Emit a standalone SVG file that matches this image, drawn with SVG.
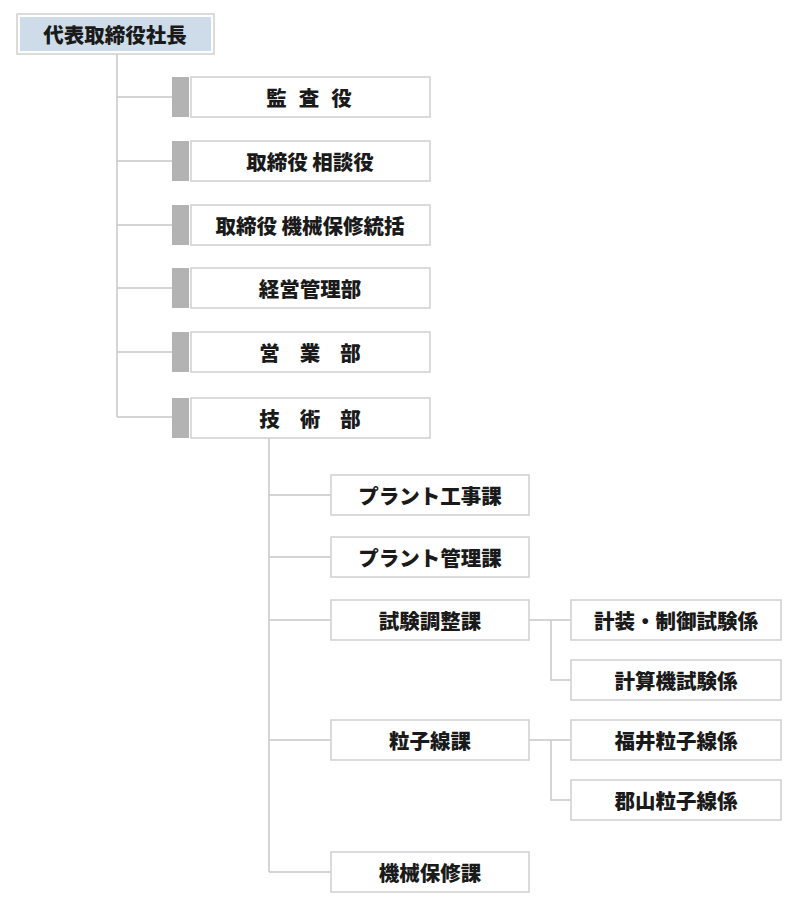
<svg xmlns="http://www.w3.org/2000/svg" width="800" height="905" viewBox="0 0 800 905">
<style>
.b{fill:#fff;stroke:#cfcfcf;stroke-width:1.5}
.g{fill:#b3b3b3}
.t{font-family:"Noto Sans CJK JP",sans-serif;font-weight:900;font-size:20.5px;fill:#1a1a1a;text-anchor:middle;dominant-baseline:central}
.c{fill:none;stroke:#c8c8c8;stroke-width:1.5}
</style>
<rect width="800" height="905" fill="#fff"/>
<g id="connectors">
<path class="c" d="M117 54V417M117 97H172M117 161H172M117 225H172M117 288H172M117 352H172M117 417H172"/>
<path class="c" d="M269 438V872M269 495H331M269 557H331M269 620H331M269 740H331M269 872H331"/>
<path class="c" d="M529 620H571M551 620V680H571M529 740H571M551 740V800H571"/>
</g>
<g id="n0"><rect x="17" y="14" width="197" height="40" fill="#fff" stroke="#d0d0d0" stroke-width="1.5"/><rect x="20" y="17" width="191" height="34" fill="#cddce8"/><text class="t" x="115" y="34">代表取締役社長</text></g>
<g id="n1"><rect class="g" x="172" y="77" width="17" height="40"/><rect class="b" x="191" y="77" width="239" height="40"/><text class="t" x="315" y="97" letter-spacing="12">監査役</text></g>
<g id="n2"><rect class="g" x="172" y="141" width="17" height="40"/><rect class="b" x="191" y="141" width="239" height="40"/><text class="t" x="310" y="161">取締役 相談役</text></g>
<g id="n3"><rect class="g" x="172" y="205" width="17" height="40"/><rect class="b" x="191" y="205" width="239" height="40"/><text class="t" x="310" y="225">取締役 機械保修統括</text></g>
<g id="n4"><rect class="g" x="172" y="268" width="17" height="40"/><rect class="b" x="191" y="268" width="239" height="40"/><text class="t" x="310" y="288">経営管理部</text></g>
<g id="n5"><rect class="g" x="172" y="332" width="17" height="40"/><rect class="b" x="191" y="332" width="239" height="40"/><text class="t" x="320" y="352" letter-spacing="20">営業部</text></g>
<g id="n6"><rect class="g" x="172" y="398" width="17" height="40"/><rect class="b" x="191" y="398" width="239" height="40"/><text class="t" x="320" y="418" letter-spacing="20">技術部</text></g>
<g id="n7"><rect class="b" x="331" y="475" width="198" height="40"/><text class="t" x="430" y="495">プラント工事課</text></g>
<g id="n8"><rect class="b" x="331" y="537" width="198" height="40"/><text class="t" x="430" y="557">プラント管理課</text></g>
<g id="n9"><rect class="b" x="331" y="600" width="198" height="40"/><text class="t" x="430" y="620">試験調整課</text></g>
<g id="n10"><rect class="b" x="331" y="720" width="198" height="40"/><text class="t" x="430" y="740">粒子線課</text></g>
<g id="n11"><rect class="b" x="331" y="852" width="198" height="40"/><text class="t" x="430" y="872">機械保修課</text></g>
<g id="n12"><rect class="b" x="571" y="600" width="210" height="40"/><text class="t" x="676" y="620">計装・制御試験係</text></g>
<g id="n13"><rect class="b" x="571" y="660" width="210" height="40"/><text class="t" x="676" y="680">計算機試験係</text></g>
<g id="n14"><rect class="b" x="571" y="720" width="210" height="40"/><text class="t" x="676" y="740">福井粒子線係</text></g>
<g id="n15"><rect class="b" x="571" y="780" width="210" height="40"/><text class="t" x="676" y="800">郡山粒子線係</text></g>
</svg>
